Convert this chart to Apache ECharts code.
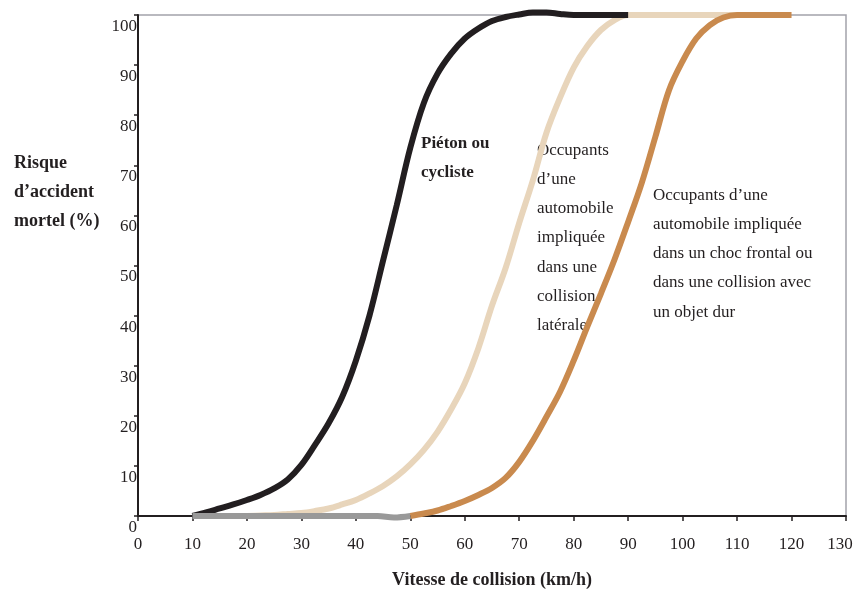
<!DOCTYPE html>
<html>
<head>
<meta charset="utf-8">
<script src="https://cdn.jsdelivr.net/npm/echarts@6/dist/echarts.min.js"></script>
<style>
html,body{margin:0;padding:0;background:#fff;}
#c{width:855px;height:592px;}
</style>
</head>
<body>
<div id="c"></div>
<script>
// Vitesse de collision (km/h) vs risque d'accident mortel (%)
const pietonCycliste = [
  [10,0],[12.5,0.7],[15,1.5],[17.5,2.3],[20,3.2],[22.5,4.2],[25,5.5],[27.5,7.3],[30,10.2],
  [32.5,14.2],[35,18.5],[37.5,23.8],[40,31],[42.5,40],[45,51],[47.5,62],[50,73.5],
  [52.5,82.5],[55,88.3],[57.5,92.3],[60,95.3],[62.5,97.3],[65,98.8],[67.5,99.6],
  [70,100.1],[72.5,100.5],[75,100.5],[77.5,100.2],[80,100],[82.5,100],[85,100],[87.5,100],[90,100]
];
const collisionLaterale = [
  [20,0],[22.5,0.1],[25,0.2],[27.5,0.4],[30,0.6],[32.5,1],[35,1.5],[37.5,2.3],[40,3.2],[42.5,4.5],[45,6],
  [47.5,7.9],[50,10.3],[52.5,13.2],[55,16.8],[57.5,21.3],[60,26.5],[62.5,33.5],[65,42],
  [67.5,49.5],[70,58.5],[72.5,67],[75,76.5],[77.5,83.5],[80,89.5],[82.5,93.8],[85,97],
  [87.5,99],[90,100],[92.5,100],[95,100],[97.5,100],[100,100],[102.5,100],[105,100],[107.5,100],[110,100]
];
const chocFrontal = [
  [50,0],[52.5,0.5],[55,1.1],[57.5,2],[60,3],[62.5,4.2],[65,5.6],[67.5,7.6],[70,10.8],
  [72.5,15],[75,19.8],[77.5,24.8],[80,31],[82.5,37.8],[85,44.4],[87.5,51.2],[90,58.7],
  [92.5,66.5],[95,75.7],[97.5,85],[100,90.8],[102.5,95.3],[105,98],[107.5,99.5],
  [110,100],[112.5,100],[115,100],[117.5,100],[120,100]
];
const sansRisque = [[10,0],[20,0],[30,0],[40,0],[44,0],[47,-0.3],[50,0]];

const xTicks = [0,10,20,30,40,50,60,70,80,90,100,110,120,130];
const yTicks = [0,10,20,30,40,50,60,70,80,90,100];

const xName = 'Vitesse de collision (km/h)';
const yName = 'Risque\nd\u2019accident\nmortel (%)';
const labelPieton = 'Piéton ou\ncycliste';
const labelLaterale = 'Occupants\nd\u2019une\nautomobile\nimpliquée\ndans une\ncollision\nlatérale';
const labelFrontal = 'Occupants d\u2019une\nautomobile impliquée\ndans un choc frontal ou\ndans une collision avec\nun objet dur';

const serif = '"Liberation Serif","DejaVu Serif",serif';
const ink = '#231f20';

const chart = echarts.init(document.getElementById('c'), null, {renderer:'canvas'});
function line(name, data, color, z) {
  return {
    name, type:'line', data, smooth:0.35, showSymbol:false, symbol:'none',
    lineStyle:{color, width:6}, z, clip:false, animation:false
  };
}
chart.setOption({
  animation:false,
  backgroundColor:'#ffffff',
  grid:{left:138, right:9, top:15, bottom:76, outerBoundsMode:'none', containLabel:false,
        show:true, borderColor:'#a2a2aa', borderWidth:1.5},
  xAxis:{
    type:'value', min:xTicks[0], max:xTicks[xTicks.length-1], interval:10,
    name:xName, nameLocation:'middle', nameGap:55,
    nameTextStyle:{fontFamily:serif, fontWeight:'bold', fontSize:18, color:ink},
    axisLine:{show:true, onZero:false, lineStyle:{color:ink, width:2}},
    axisTick:{show:true, length:5, lineStyle:{color:ink, width:1.5}},
    axisLabel:{margin:20, fontFamily:serif, fontSize:17, color:ink,
      formatter:function(v){ return v === xTicks[xTicks.length-1] ? '{m|' + v + '}' : String(v); },
      rich:{m:{fontFamily:serif, fontSize:17, color:ink, padding:[0,12,0,0]}}},
    splitLine:{show:false}
  },
  yAxis:{
    type:'value', min:yTicks[0], max:yTicks[yTicks.length-1], interval:10,
    axisLine:{show:true, onZero:false, lineStyle:{color:ink, width:2}},
    axisTick:{show:true, length:4, lineStyle:{color:ink, width:1.5}},
    axisLabel:{margin:1, fontFamily:serif, fontSize:17, color:ink, verticalAlign:'top', padding:[3,0,0,0]},
    splitLine:{show:false}
  },
  graphic:[
    {type:'text', left:14, top:148.5, style:{text:yName, font:'bold 18px '+serif, fill:ink, lineHeight:29}},
    {type:'text', left:421, top:128.5, style:{text:labelPieton, font:'bold 17px '+serif, fill:ink, lineHeight:29.5}},
    {type:'text', left:537, top:135.5, style:{text:labelLaterale, font:'17px '+serif, fill:ink, lineHeight:29.25}},
    {type:'text', left:653, top:180.5, style:{text:labelFrontal, font:'17px '+serif, fill:ink, lineHeight:29.25}}
  ],
  series:[
    line('Piéton ou cycliste', pietonCycliste, '#221e20', 3),
    line('Collision latérale', collisionLaterale, '#e8d5bb', 2),
    line('Choc frontal', chocFrontal, '#c98a4e', 4),
    line('Risque nul', sansRisque, '#999999', 5)
  ]
});
</script>
</body>
</html>
